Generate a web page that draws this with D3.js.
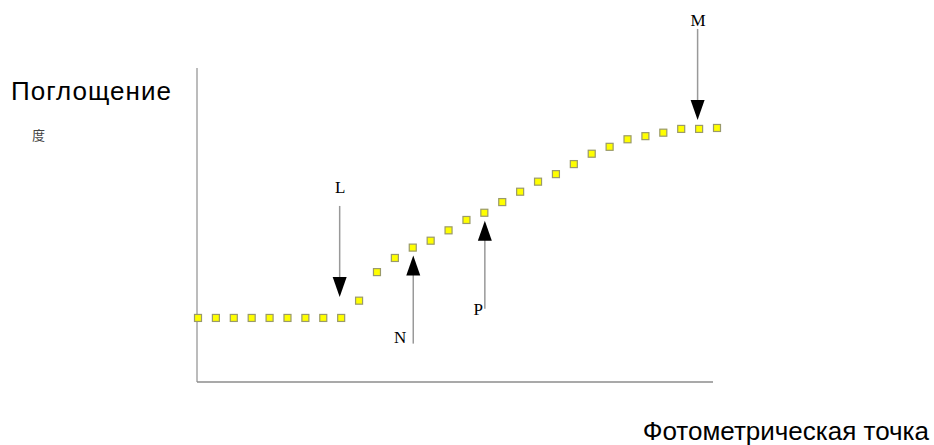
<!DOCTYPE html>
<html>
<head>
<meta charset="utf-8">
<script src="https://cdn.jsdelivr.net/npm/d3@7"></script>
<style>
html,body{margin:0;padding:0;background:#fff;}
svg{display:block;}
</style>
</head>
<body>
<svg id="chart" width="934" height="445"></svg>
<script>
// Data: photometric point index vs absorbance (arbitrary units)
const pointIndex = d3.range(30);
const absorbance = [20.4,20.4,20.4,20.4,20.4,20.4,20.4,20.4,20.4,
  25.9,35.0,39.5,42.8,45.0,48.3,51.6,53.9,57.3,60.6,63.8,66.2,69.4,72.7,74.9,77.3,78.3,79.4,80.6,80.6,80.9];
const annotationLabels = ["L","N","P","M"];
const annotationIndex = [8,12,16,28];
const annotationDir = ["down","up","up","down"];
const yLabel = "Поглощение";
const yUnit = "度";
const xLabel = "Фотометрическая точка";

// style: gap between arrow tip and its point, and label gap from line end (px)
const tipGap = {L:21, N:8, P:8, M:9};
const labelGap = {L:13, M:3};

const svg = d3.select("#chart");
const x = d3.scaleLinear().domain([0,29]).range([198,717]);
const y = d3.scaleLinear().domain([0,100]).range([382,68]);

// axes
svg.append("line").attr("x1",197).attr("x2",197).attr("y1",y(100)).attr("y2",y(0))
  .attr("stroke","#a6a6a6").attr("stroke-width",1.5);
svg.append("line").attr("x1",197).attr("x2",713).attr("y1",y(0)).attr("y2",y(0))
  .attr("stroke","#8c8c8c").attr("stroke-width",1.5);

// points
svg.selectAll("rect.pt").data(pointIndex).enter().append("rect")
  .attr("class","pt")
  .attr("x",d=>x(d)-3.5).attr("y",d=>y(absorbance[d])-3.5)
  .attr("width",7).attr("height",7)
  .attr("fill","#ffff00").attr("stroke","#9a9a6a").attr("stroke-width",1.2);

// annotations
const serif = "Liberation Serif, Times New Roman, serif";
annotationLabels.forEach((lab,i)=>{
  const idx = annotationIndex[i], dir = annotationDir[i];
  const px = x(idx) - (dir==="down" ? 1.5 : -0.5);
  const py = y(absorbance[idx]);
  const g = svg.append("g");
  if(dir==="down"){
    const tip = py - tipGap[lab], base = tip - 20, top = tip - 91;
    g.append("line").attr("x1",px).attr("x2",px).attr("y1",top).attr("y2",base+2)
      .attr("stroke","#999").attr("stroke-width",1.5);
    g.append("path").attr("d",`M${px-7},${base}L${px+7},${base}L${px},${tip}Z`).attr("fill","#000");
    g.append("text").attr("x",px+0.5).attr("y",top-labelGap[lab]).attr("text-anchor","middle")
      .attr("font-family",serif).attr("font-size",17)
      .attr("fill","#000").text(lab);
  } else {
    const tip = py + tipGap[lab], base = tip + 20, bottom = tip + 88;
    g.append("line").attr("x1",px).attr("x2",px).attr("y1",base-2).attr("y2",bottom)
      .attr("stroke","#999").attr("stroke-width",1.5);
    g.append("path").attr("d",`M${px-7},${base}L${px+7},${base}L${px},${tip}Z`).attr("fill","#000");
    g.append("text").attr("x",px-(lab==="N"?7:2)).attr("y",bottom-(lab==="N"?1:-6)).attr("text-anchor","end")
      .attr("font-family",serif).attr("font-size",17)
      .attr("fill","#000").text(lab);
  }
});

// labels
svg.append("text").attr("x",11).attr("y",100)
  .attr("font-family","Liberation Sans, Arial, sans-serif").attr("font-size",26)
  .attr("letter-spacing",1)
  .attr("fill","#000").text(yLabel);
svg.append("text").attr("x",32).attr("y",140)
  .attr("font-family","Noto Sans CJK SC, sans-serif").attr("font-size",13)
  .attr("fill","#444").text(yUnit);
svg.append("text").attr("x",929).attr("y",440).attr("text-anchor","end")
  .attr("font-family","Liberation Sans, Arial, sans-serif").attr("font-size",26)
  .attr("fill","#000").text(xLabel);
</script>
</body>
</html>
